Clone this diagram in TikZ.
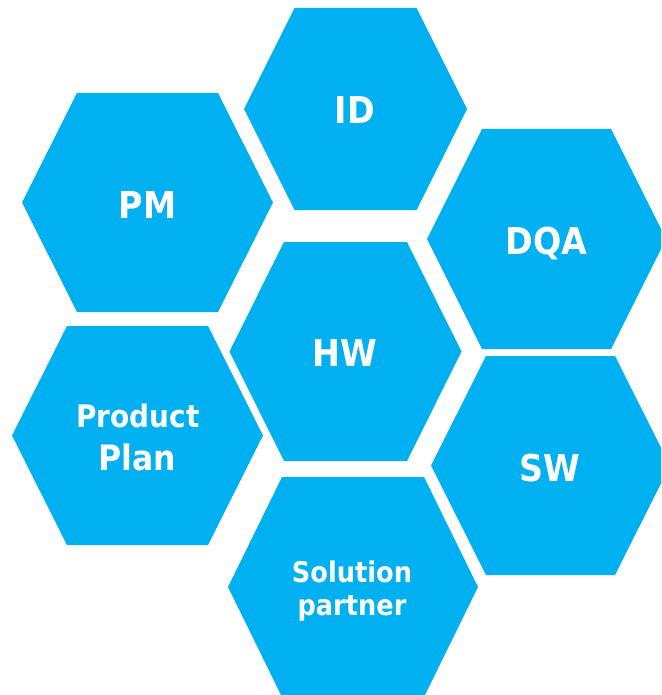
\documentclass[tikz,border=0pt]{standalone}
\usepackage{fontspec}
\setmainfont{DejaVu Sans}[FakeStretch=0.9]
\definecolor{hexblue}{HTML}{00B0F0}
% name, cx, cy, half width, half top edge, half height
\newcommand\hexcell[6]{%
  \coordinate (#1) at (#2,#3);
  \fill[hexcellstyle] (#2-#4,#3) -- (#2-#5,#3-#6) -- (#2+#5,#3-#6) -- (#2+#4,#3)
    -- (#2+#5,#3+#6) -- (#2-#5,#3+#6) -- cycle;}
\tikzset{
  hexcellstyle/.style={fill=hexblue},
  lbl/.style={text=white, font=\bfseries, anchor=base, inner sep=0pt, align=center}
}
\begin{document}
\begin{tikzpicture}[x=1pt,y=-1pt]
\useasboundingbox (0,0) rectangle (661,695);
\clip (0,0) rectangle (661,695);
\hexcell{id}{355.5}{109}{111.5}{61}{101}
\hexcell{pm}{147.5}{202.5}{125.5}{70.5}{109.5}
\hexcell{dqa}{546.5}{239}{119.5}{64.5}{110}
\hexcell{hw}{345.5}{351.5}{116}{61.5}{109.5}
\hexcell{pp}{137.5}{435.5}{125.5}{70.5}{109.5}
\hexcell{sw}{550.5}{465.5}{119.5}{64.5}{109.5}
\hexcell{sp}{353}{587}{125}{71}{110}

\node[lbl, font=\bfseries\fontsize{37}{40}\selectfont] (tid) at (355,124) {ID};
\node[lbl, font=\bfseries\fontsize{37}{40}\selectfont] (tpm) at (147.5,218) {PM};
\node[lbl, font=\bfseries\fontsize{37}{40}\selectfont] (tdqa) at (546.5,254) {DQA};
\node[lbl, font=\bfseries\fontsize{37}{40}\selectfont] (thw) at (345,366) {HW};
\node[lbl, font=\bfseries\fontsize{37}{40}\selectfont] (tsw) at (550,481) {SW};
\node[lbl, font=\bfseries\fontsize{31}{34}\selectfont] (tpp1) at (138,427) {Product};
\node[lbl, font=\bfseries\fontsize{35}{38}\selectfont] (tpp2) at (137,470) {Plan};
\node[lbl, font=\bfseries\fontsize{28.5}{31}\selectfont] (tsp1) at (352,582) {Solution};
\node[lbl, font=\bfseries\fontsize{28.5}{31}\selectfont] (tsp2) at (352,615) {partner};
\end{tikzpicture}
\end{document}
